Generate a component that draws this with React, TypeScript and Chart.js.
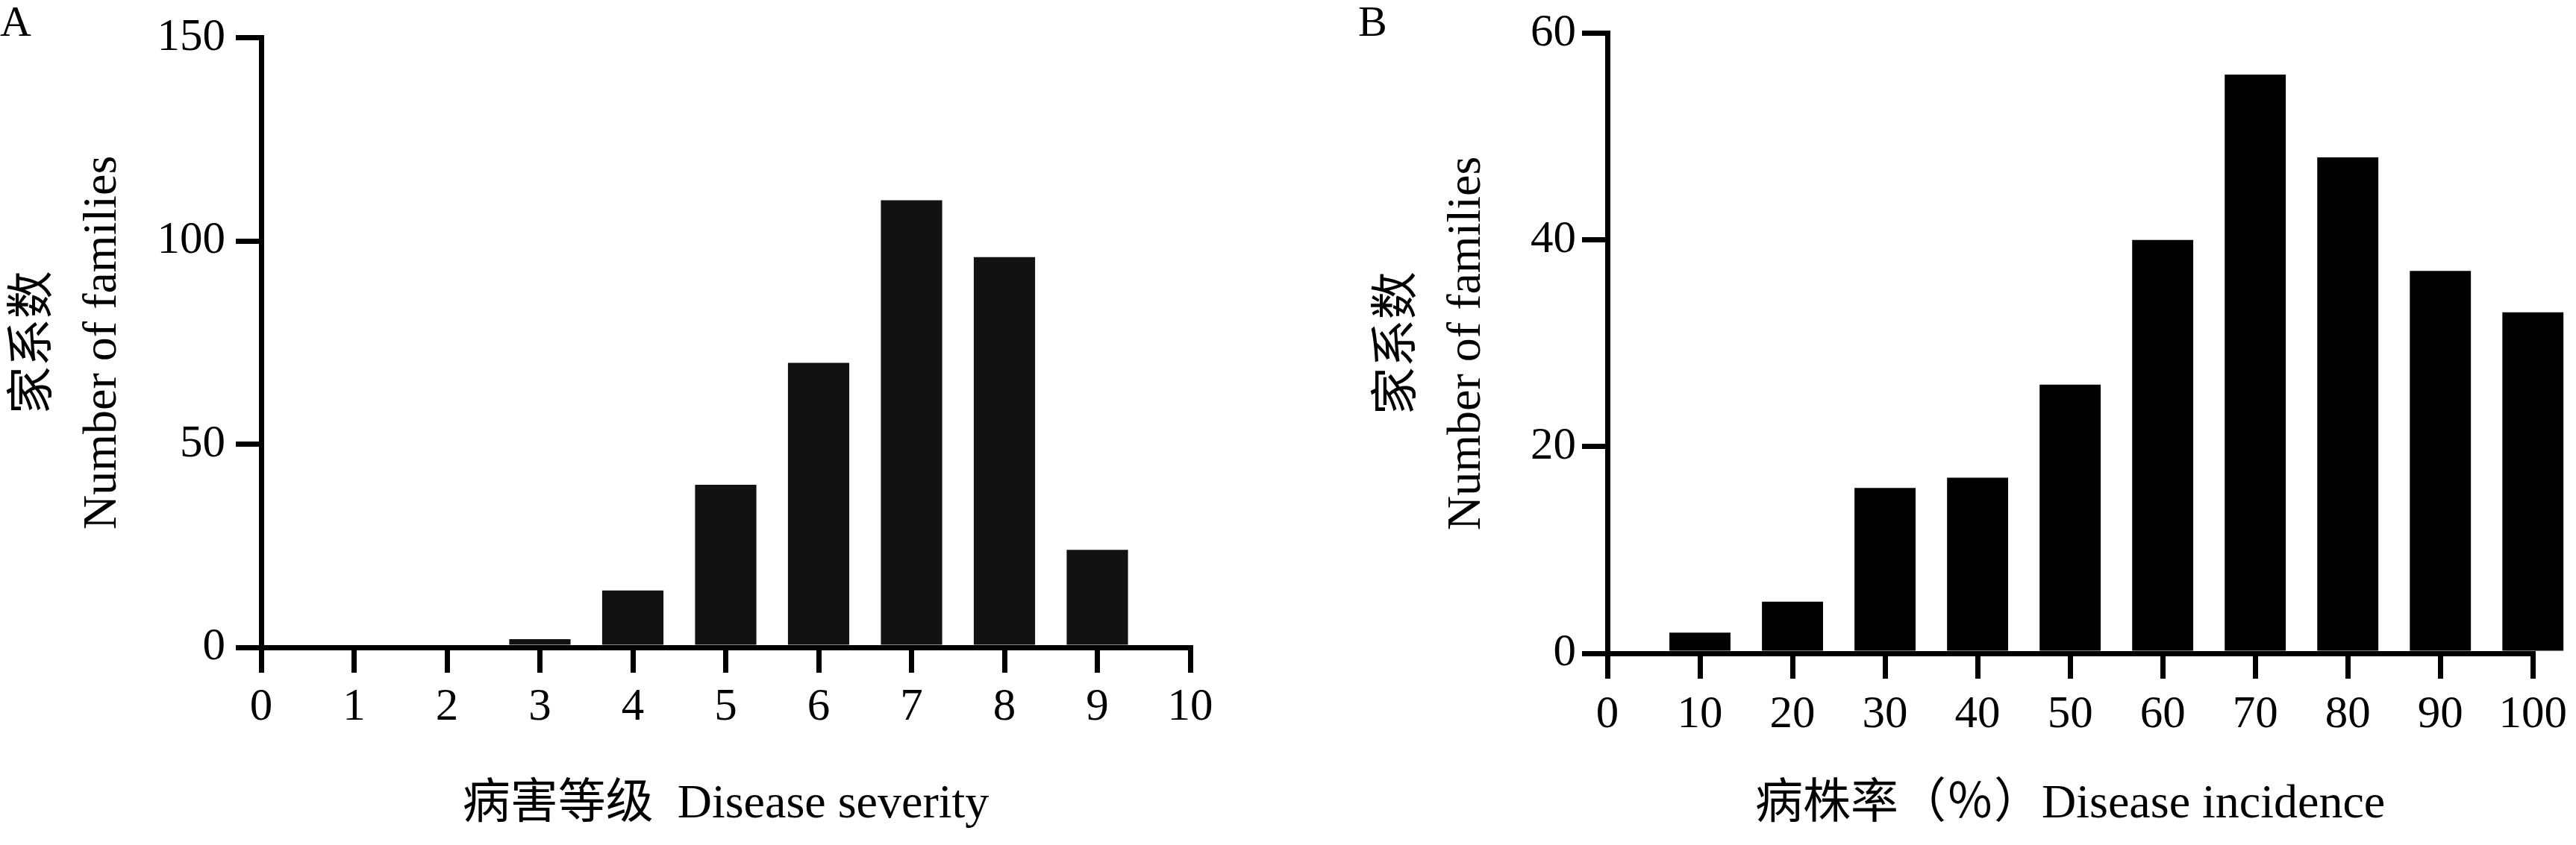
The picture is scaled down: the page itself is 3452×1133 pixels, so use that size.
import React, { useEffect, useRef } from "react";
import { Chart, registerables } from "chart.js";

Chart.register(...registerables);

// panel A: disease severity grades
const severityLabels = ["0", "1", "2", "3", "4", "5", "6", "7", "8", "9", "10"];
const severityCounts = [0, 0, 0, 2, 14, 40, 70, 110, 96, 24, null];
const severityYTicks = [0, 50, 100, 150];

// panel B: disease incidence (%)
const incidenceLabels = ["0", "10", "20", "30", "40", "50", "60", "70", "80", "90", "100"];
const incidenceCounts = [null, 2, 5, 16, 17, 26, 40, 56, 48, 37, 33];
const incidenceYTicks = [0, 20, 40, 60];

const yTitle = ["家系数", "Number of families"];

const PANEL_W = 1726;
const PANEL_H = 1133;
const SERIF = '"Liberation Serif", "Times New Roman", "Noto Sans CJK SC", serif';

type PanelProps = {
  letter: string;
  labels: string[];
  counts: (number | null)[];
  yTicks: number[];
  xTitle: string;
  barColor: string;
  left: number;
  axisX: number; // all x/y below are relative to the panel
  plotTop: number;
  plotRight: number;
  plotBottom: number;
  yTitlePad: number;
  yTickPad: number;
  xTickPad: number;
  letterX: number;
};

const Panel = (p: PanelProps) => {
  const canvasRef = useRef<HTMLCanvasElement>(null);

  useEffect(() => {
    if (!canvasRef.current) return;
    const ctx = canvasRef.current.getContext("2d");
    if (!ctx) return;

    const axisOpts = {
      grid: {
        offset: false,
        drawOnChartArea: false,
        drawTicks: true,
        tickLength: 34,
        tickWidth: 7,
        tickColor: "#000",
        lineWidth: 7,
        color: "#000",
      },
      border: { display: true, width: 7, color: "#000" },
    };

    const chart = new Chart(ctx, {
      type: "bar",
      data: {
        labels: p.labels,
        datasets: [
          {
            data: p.counts,
            backgroundColor: p.barColor,
            borderWidth: 0,
            categoryPercentage: 1,
            barPercentage: 0.66,
            clip: false,
          },
        ],
      },
      options: {
        animation: false,
        responsive: true,
        maintainAspectRatio: false,
        layout: {
          padding: { left: 0, top: p.plotTop, right: PANEL_W - p.plotRight, bottom: 0 },
        },
        plugins: {
          legend: { display: false },
          tooltip: { enabled: false },
        },
        scales: {
          x: {
            type: "category",
            offset: false,
            ...axisOpts,
            ticks: {
              color: "#000",
              font: { family: SERIF, size: 61 },
              padding: p.xTickPad,
              maxRotation: 0,
              autoSkip: false,
            },
            title: {
              display: true,
              text: p.xTitle,
              color: "#000",
              font: { family: SERIF, size: 64, lineHeight: 1.2 },
              padding: { top: 0, bottom: 15 },
            },
            afterFit: (s: any) => {
              s.height = PANEL_H - p.plotBottom;
            },
          },
          y: {
            min: p.yTicks[0],
            max: p.yTicks[p.yTicks.length - 1],
            ...axisOpts,
            ticks: {
              stepSize: p.yTicks[1] - p.yTicks[0],
              color: "#000",
              font: { family: SERIF, size: 61 },
              padding: p.yTickPad,
            },
            title: {
              display: true,
              text: yTitle,
              color: "#000",
              font: { family: SERIF, size: 64, lineHeight: 1.44 },
              padding: { top: p.yTitlePad, bottom: 0 },
            },
            afterFit: (s: any) => {
              s.width = p.axisX;
            },
          },
        },
      },
    });

    return () => {
      chart.destroy();
    };
  }, []);

  return (
    <div style={{ position: "absolute", left: p.left, top: 0, width: PANEL_W, height: PANEL_H }}>
      <canvas ref={canvasRef} />
      <div
        style={{
          position: "absolute",
          left: p.letterX,
          top: 0,
          fontFamily: SERIF,
          fontSize: 58,
          lineHeight: 1,
          color: "#000",
        }}
      >
        {p.letter}
      </div>
    </div>
  );
};

const App = () => {
  return (
    <div style={{ position: "relative", width: 3452, height: 1133, background: "#fff" }}>
      <style>{"body{margin:0}"}</style>
      <Panel
        letter="A"
        labels={severityLabels}
        counts={severityCounts}
        yTicks={severityYTicks}
        xTitle="病害等级  Disease severity"
        barColor="#121212"
        left={0}
        axisX={350}
        plotTop={39}
        plotRight={1595}
        plotBottom={868}
        yTitlePad={0}
        yTickPad={14}
        xTickPad={10}
        letterX={0}
      />
      <Panel
        letter="B"
        labels={incidenceLabels}
        counts={incidenceCounts}
        yTicks={incidenceYTicks}
        xTitle="病株率（％）Disease incidence"
        barColor="#000"
        left={1726}
        axisX={428}
        plotTop={43}
        plotRight={1672}
        plotBottom={876}
        yTitlePad={102}
        yTickPad={8}
        xTickPad={12}
        letterX={94}
      />
    </div>
  );
};

export default App;
